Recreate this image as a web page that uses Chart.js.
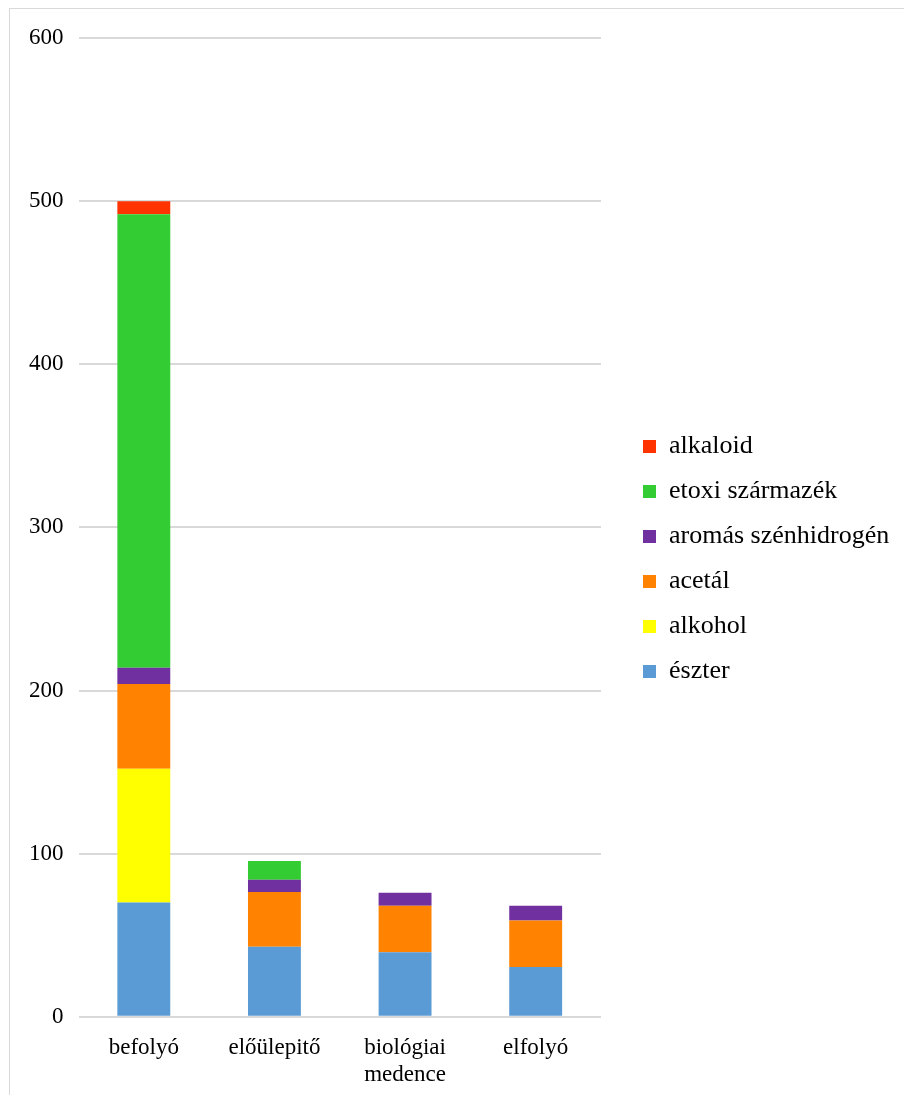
<!DOCTYPE html>
<html>
<head>
<meta charset="utf-8">
<script src="https://cdn.jsdelivr.net/npm/chart.js@4/dist/chart.umd.min.js"></script>
<style>
  body { margin: 0; background: #fff; }
  #keret { position: absolute; left: 9px; top: 8px; width: 940px; height: 1120px; border: 1px solid #d9d9d9; }
  #grafikon { position: absolute; left: 0; top: 0; }
</style>
</head>
<body>
<div id="keret"></div>
<canvas id="grafikon" width="904" height="1095"></canvas>
<script>
// Mintavételi helyek
const helyek = ['befolyó', 'előülepitő', ['biológiai', 'medence'], 'elfolyó'];

// Vegyületcsoportok értékei helyenként
const eszter = [70, 43, 39.5, 30.5];
const alkohol = [82, 0, 0, 0];
const acetal = [52, 33.5, 28.5, 28.5];
const aromas = [10, 7.5, 8, 9];
const etoxi = [278, 11.5, 0, 0];
const alkaloid = [8, 0, 0, 0];

const yTicks = [0, 100, 200, 300, 400, 500, 600];

const betu = 'Liberation Serif, Times New Roman, serif';

function sor(label, data, szin) {
    return { label: label, data: data, backgroundColor: szin, borderWidth: 0 };
}

// A jelmagyarázat szélességét és helyét rögzítjük, hogy a rajzterület jobb széle fix legyen
const jelmagyarazatHely = {
    id: 'jelmagyarazatHely',
    beforeLayout(chart) {
        const lg = chart.legend;
        if (lg && !lg._rogzitett) {
            const eredeti = lg.fit;
            lg.fit = function () {
                eredeti.call(this);
                this.width = 303;
            };
            lg._rogzitett = true;
        }
    },
    afterLayout(chart) {
        const lg = chart.legend;
        if (!lg) return;
        lg.left = 624;
        lg.right = 904;
        lg.top -= 9;
        lg.bottom -= 9;
    }
};

const ctx = document.getElementById('grafikon').getContext('2d');
new Chart(ctx, {
    type: 'bar',
    data: {
        labels: helyek,
        datasets: [
            sor('észter', eszter, '#5B9BD5'),
            sor('alkohol', alkohol, '#FFFF00'),
            sor('acetál', acetal, '#FF8300'),
            sor('aromás szénhidrogén', aromas, '#7030A0'),
            sor('etoxi származék', etoxi, '#33CC33'),
            sor('alkaloid', alkaloid, '#FF3300')
        ]
    },
    options: {
        responsive: false,
        animation: false,
        datasets: { bar: { categoryPercentage: 1, barPercentage: 0.405 } },
        layout: { padding: { left: 14, top: 38, right: 0, bottom: -3 } },
        scales: {
            x: {
                stacked: true,
                grid: { display: false },
                border: { display: false },
                ticks: { color: '#000', font: { family: betu, size: 23 }, padding: 9, maxRotation: 0 }
            },
            y: {
                stacked: true,
                min: 0,
                max: 600,
                afterBuildTicks: ax => { ax.ticks = yTicks.map(v => ({ value: v })); },
                grid: { color: '#d9d9d9', lineWidth: 2, drawTicks: false },
                border: { display: false },
                ticks: { color: '#000', font: { family: betu, size: 23 }, padding: 15 }
            }
        },
        plugins: {
            legend: {
                position: 'right',
                reverse: true,
                labels: {
                    color: '#000',
                    font: { family: betu, size: 26 },
                    boxWidth: 13,
                    boxHeight: 13,
                    padding: 19
                }
            },
            tooltip: { enabled: false }
        }
    },
    plugins: [jelmagyarazatHely]
});
</script>
</body>
</html>
